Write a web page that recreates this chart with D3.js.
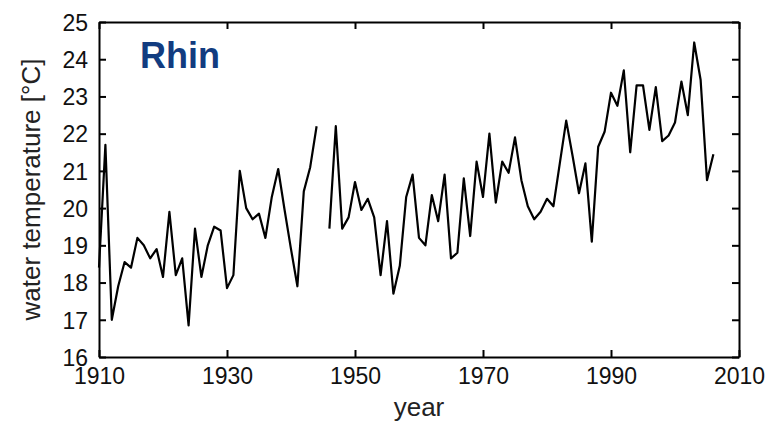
<!DOCTYPE html>
<html>
<head>
<meta charset="utf-8">
<script src="https://cdn.jsdelivr.net/npm/d3@7"></script>
<style>
    body { margin: 0; background: #fff; }
    #chart svg { display: block; }
</style>
</head>
<body>
<div id="chart"></div>
<script>
// Rhine water temperature, yearly means

const years = d3.range(1910, 2007);
const temps = [
    18.4, 21.7, 17.0, 17.9, 18.55, 18.4, 19.2, 19.0, 18.65, 18.9,   // 1910s
    18.15, 19.9, 18.2, 18.65, 16.85, 19.45, 18.15, 19.0, 19.5, 19.4, // 1920s
    17.85, 18.2, 21.0, 20.0, 19.7, 19.85, 19.2, 20.3, 21.05, 19.95,  // 1930s
    18.9, 17.9, 20.45, 21.1, 22.2, null, 19.45, 22.2, 19.45, 19.75,  // 1940s (1945 missing)
    20.7, 19.95, 20.25, 19.75, 18.2, 19.65, 17.7, 18.45, 20.3, 20.9, // 1950s
    19.2, 19.0, 20.35, 19.65, 20.9, 18.65, 18.8, 20.8, 19.25, 21.25, // 1960s
    20.3, 22.0, 20.15, 21.25, 20.95, 21.9, 20.75, 20.05, 19.7, 19.9, // 1970s
    20.25, 20.05, 21.2, 22.35, 21.4, 20.4, 21.2, 19.1, 21.65, 22.05, // 1980s
    23.1, 22.75, 23.7, 21.5, 23.3, 23.3, 22.1, 23.25, 21.8, 21.95,   // 1990s
    22.3, 23.4, 22.5, 24.45, 23.45, 20.75, 21.45                     // 2000s
];
const xTicks = [1910, 1930, 1950, 1970, 1990, 2010];
const yTicks = [16, 17, 18, 19, 20, 21, 22, 23, 24, 25];

const data = years.map((yr, i) => ({year: yr, temp: temps[i]}));

const width = 771,
    height = 423,
    margin = ({top: 22, right: 32, bottom: 66, left: 99});

let svg = d3.select("#chart")
    .append("svg")
    .attr("width", width)
    .attr("height", height)
    .style("font-family", "'Liberation Sans', Arial, sans-serif");

let x = d3.scaleLinear()
    .domain([1910, 2010])
    .range([margin.left, width - margin.right]);

let y = d3.scaleLinear()
    .domain([16, 25])
    .range([height - margin.bottom, margin.top]);

// axes, matlab style: box with ticks pointing inward
svg.append("g")
    .attr("transform", `translate(0,${height - margin.bottom})`)
    .call(d3.axisBottom(x).tickValues(xTicks).tickFormat(d3.format("d"))
        .tickSize(-7).tickSizeOuter(0).tickPadding(11))
    .call(g => g.selectAll("text").style("font-size", "23px"));

svg.append("g")
    .attr("transform", `translate(0,${margin.top})`)
    .call(d3.axisTop(x).tickValues(xTicks).tickFormat("")
        .tickSize(-7).tickSizeOuter(0));

svg.append("g")
    .attr("transform", `translate(${margin.left},0)`)
    .call(d3.axisLeft(y).tickValues(yTicks)
        .tickSize(-7).tickSizeOuter(0).tickPadding(11))
    .call(g => g.selectAll("text").style("font-size", "23px").attr("dy", "0.36em"));

svg.append("g")
    .attr("transform", `translate(${width - margin.right},0)`)
    .call(d3.axisRight(y).tickValues(yTicks).tickFormat("")
        .tickSize(-7).tickSizeOuter(0));

svg.selectAll(".domain, .tick line")
    .attr("stroke", "#000")
    .attr("stroke-width", 2);
svg.selectAll(".tick text").attr("fill", "#111");

// temperature line, gap where a year is missing
let line = d3.line()
    .defined(d => d.temp !== null)
    .x(d => x(d.year))
    .y(d => y(d.temp));

svg.append("path")
    .datum(data)
    .attr("fill", "none")
    .attr("stroke", "#000")
    .attr("stroke-width", 2.2)
    .attr("stroke-linejoin", "round")
    .attr("d", line);

// title inside the plot
svg.append("text")
    .text("Rhin")
    .attr("x", 140)
    .attr("y", 68)
    .style("font-size", "36px")
    .style("font-weight", "bold")
    .style("fill", "#123c80");

// axis labels
svg.append("text")
    .text("year")
    .attr("x", (margin.left + width - margin.right) / 2)
    .attr("y", 416)
    .attr("text-anchor", "middle")
    .style("font-size", "26px")
    .style("fill", "#222");

svg.append("text")
    .text("water temperature [°C]")
    .attr("transform", `translate(40,${(margin.top + height - margin.bottom) / 2}) rotate(-90)`)
    .attr("text-anchor", "middle")
    .style("font-size", "26px")
    .style("fill", "#222");
</script>
</body>
</html>
